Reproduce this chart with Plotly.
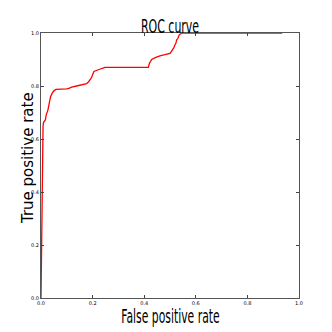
import plotly.graph_objects as go

fpr = [0.0, 0.001, 0.002, 0.003, 0.004, 0.005, 0.006, 0.008, 0.010, 0.014, 0.017, 0.020, 0.024, 0.027,
       0.032, 0.037, 0.043, 0.050, 0.058, 0.080, 0.100, 0.110, 0.119, 0.138, 0.160, 0.177,
       0.186, 0.196, 0.205, 0.220, 0.235, 0.248, 0.300, 0.350, 0.416, 0.420, 0.429, 0.445,
       0.461, 0.480, 0.500, 0.505, 0.510, 0.515, 0.519, 0.523, 0.526, 0.531, 0.535, 0.540,
       0.545, 0.700, 0.935]
tpr = [0.0, 0.10, 0.25, 0.38, 0.50, 0.58, 0.62, 0.65, 0.663, 0.67, 0.672, 0.69, 0.70, 0.71,
       0.735, 0.76, 0.772, 0.782, 0.787, 0.787, 0.789, 0.792, 0.796, 0.800, 0.805, 0.809,
       0.818, 0.832, 0.855, 0.862, 0.866, 0.870, 0.870, 0.870, 0.870, 0.885, 0.900, 0.908,
       0.914, 0.918, 0.923, 0.930, 0.936, 0.945, 0.955, 0.962, 0.974, 0.980, 0.992, 0.995,
       1.0, 1.0, 1.0]

ticks = [0.0, 0.2, 0.4, 0.6, 0.8, 1.0]
tick_text = ["0.0", "0.2", "0.4", "0.6", "0.8", "1.0"]

W = H = 332
L, R, T, B = 41, 33, 33, 34

fig = go.Figure()
fig.add_trace(go.Scatter(x=fpr, y=tpr, mode="lines",
                         line=dict(color="#ff0000", width=1.3), hoverinfo="skip"))

axis_common = dict(range=[0, 1], tickvals=ticks, ticktext=tick_text, ticks="inside",
                   ticklen=3, tickwidth=0.8, tickcolor="#444", showline=True,
                   linecolor="#555", linewidth=1, mirror="ticks", showgrid=False,
                   zeroline=False, automargin=False,
                   tickfont=dict(size=5, color="#000", family="DejaVu Sans"))
fig.update_xaxes(**axis_common)
fig.update_yaxes(**axis_common)

pw = W - L - R
ph = H - T - B
fig.update_layout(
    width=W, height=H, margin=dict(l=L, r=R, t=T, b=B, autoexpand=False),
    paper_bgcolor="white", plot_bgcolor="white", showlegend=False,
    annotations=[
        dict(text="ROC curve", xref="paper", yref="paper", x=0.5, y=1 + 7 / ph,
             xanchor="center", yanchor="middle", showarrow=False,
             font=dict(size=20, family="DejaVu Sans", color="#000")),
        dict(text="False positive rate", xref="paper", yref="paper", x=0.5, y=-18 / ph,
             xanchor="center", yanchor="middle", showarrow=False,
             font=dict(size=19, family="DejaVu Sans", color="#000")),
        dict(text="True positive rate", xref="paper", yref="paper", x=-13 / pw, y=0.528,
             xanchor="center", yanchor="middle", showarrow=False, textangle=-90,
             font=dict(size=15, family="DejaVu Sans", color="#000")),
    ],
)

post = """
document.body.style.margin='0';
document.body.style.overflow='hidden';
document.querySelectorAll('text.annotation-text').forEach(function(el){
  var t = el.textContent;
  var s = null;
  if (t === 'ROC curve') s = 0.55;
  if (t === 'False positive rate') s = 0.57;
  if (s !== null) {
    el.style.transformBox = 'fill-box';
    el.style.transformOrigin = 'center';
    el.style.transform = 'scaleX(' + s + ')';
  }
});
"""
fig.write_html("out.html", config={"displayModeBar": False}, post_script=post)
